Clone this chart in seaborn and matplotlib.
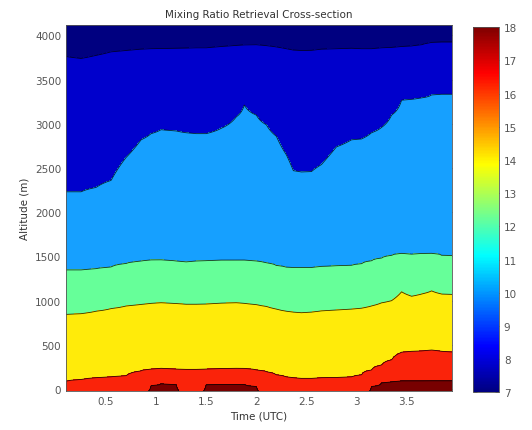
import numpy as np
import matplotlib
matplotlib.use("Agg")
import matplotlib.pyplot as plt
from matplotlib.colors import LinearSegmentedColormap
import seaborn as sns

sns.set_style("white")
plt.rcParams['font.family'] = ['DejaVu Sans']

# time (UTC hours) of each sampled column
times = [0.1, 0.25, 0.4, 0.55, 0.7, 0.85, 0.95, 1.05, 1.2, 1.3, 1.4, 1.5, 1.65, 1.8, 1.88,
         2.0, 2.1, 2.2, 2.3, 2.37, 2.45, 2.55, 2.65, 2.8, 2.95, 3.05, 3.15, 3.25, 3.35, 3.45,
         3.55, 3.65, 3.75, 3.85, 3.96]

# altitude (m) of each contour boundary at those times
top_17 = [-80, -80, -80, -80, -80, -80, 40, 60, 50, -80, -80, 50, 55, 55, 55,
          30, -80, -80, -80, -80, -80, -80, -80, -80, -80, -80, 30, 70, 85, 95,
          95, 95, 96, 96, 96]
top_15 = [88, 105, 125, 135, 150, 205, 225, 232, 225, 220, 220, 225, 228, 232, 230,
          215, 195, 160, 135, 125, 120, 120, 125, 130, 135, 160, 215, 270, 330, 415,
          425, 430, 440, 425, 417]
top_13 = [845, 853, 880, 910, 940, 958, 970, 977, 968, 960, 960, 962, 972, 977, 970,
          955, 935, 905, 880, 870, 864, 870, 885, 895, 905, 915, 940, 975, 1000, 1100,
          1050, 1075, 1110, 1075, 1071]
top_11 = [1347, 1347, 1360, 1380, 1420, 1445, 1458, 1460, 1445, 1435, 1445, 1452, 1455, 1455, 1455,
          1445, 1425, 1395, 1378, 1372, 1372, 1372, 1385, 1392, 1400, 1415, 1450, 1480, 1510, 1533,
          1525, 1530, 1535, 1510, 1506]
top_9_5 = [2231, 2231, 2280, 2360, 2620, 2820, 2890, 2935, 2920, 2900, 2890, 2890, 2950, 3080, 3214,
           3100, 2990, 2860, 2650, 2470, 2455, 2460, 2540, 2740, 2820, 2830, 2900, 2960, 3100, 3270,
           3280, 3295, 3330, 3335, 3335]
top_8 = [3762, 3740, 3775, 3815, 3830, 3845, 3850, 3852, 3855, 3857, 3860, 3860, 3875, 3887, 3892,
         3895, 3885, 3870, 3850, 3835, 3830, 3832, 3845, 3850, 3855, 3850, 3850, 3860, 3865, 3875,
         3880, 3895, 3920, 3925, 3925]

levels = [6.5, 8, 9.5, 11, 13, 15, 17, 18.5]
band_colors = ['#000080', '#0000CC', '#16A0FF', '#66FF99', '#FFEB0A', '#FA230A', '#780000']

# build mixing ratio grid (g/kg) from the boundary heights
alt = np.linspace(-25, 4125, 400)
bounds = np.array([top_17, top_15, top_13, top_11, top_9_5, top_8])
field = np.empty((len(alt), len(times)))
for j in range(len(times)):
    zs = np.concatenate([[-500], bounds[:, j], [5000]])
    vs = [18, 17, 15, 13, 11, 9.5, 8, 6.5]
    field[:, j] = np.interp(alt, zs, vs)

# matlab-style jet for the colorbar
mjet = LinearSegmentedColormap('mjet', {
    'red':   [(0, 0, 0), (0.375, 0, 0), (0.625, 1, 1), (0.875, 1, 1), (1, 0.5, 0.5)],
    'green': [(0, 0, 0), (0.125, 0, 0), (0.375, 1, 1), (0.625, 1, 1), (0.875, 0, 0), (1, 0, 0)],
    'blue':  [(0, 0.5, 0.5), (0.125, 1, 1), (0.375, 1, 1), (0.625, 0, 0), (1, 0, 0)],
})
norm = plt.Normalize(7, 18)

fig = plt.figure(figsize=(5.32, 4.31), dpi=100)
ax = fig.add_axes([0.124, 0.09, 0.726, 0.85])
T, Z = np.meshgrid(times, alt)
ax.contourf(T, Z, field, levels=levels, colors=band_colors)
ax.contour(T, Z, field, levels=levels[1:-1], colors='k', linewidths=0.6, alpha=0.8)

ax.set_xlim(0.1, 3.955)
ax.set_ylim(-25, 4120)
ax.set_xticks([0.5, 1, 1.5, 2, 2.5, 3, 3.5])
ax.set_xticklabels(['0.5', '1', '1.5', '2', '2.5', '3', '3.5'])
ax.set_yticks(range(0, 4001, 500))
ax.tick_params(direction='in', length=3, width=0.5, labelsize=7.5, colors='#333333',
               top=True, right=True, labelcolor='#555555')
for s in ax.spines.values():
    s.set_linewidth(0.6)
    s.set_color('#555555')
ax.set_title('Mixing Ratio Retrieval Cross-section', fontsize=7.5, color='#333333', pad=6)
ax.set_xlabel('Time (UTC)', fontsize=7.5, color='#333333', labelpad=3)
ax.set_ylabel('Altitude (m)', fontsize=7.5, color='#333333', labelpad=4)

cax = fig.add_axes([0.8885, 0.0875, 0.0494, 0.847])
sm = plt.cm.ScalarMappable(cmap=mjet, norm=norm)
cb = fig.colorbar(sm, cax=cax, ticks=range(7, 19))
cb.outline.set_linewidth(0.6)
cb.outline.set_edgecolor('#555555')
cax.tick_params(direction='in', length=3, width=0.5, labelsize=7.5, colors='#333333',
                labelcolor='#555555', left=True, right=True)

fig.savefig('out.png', dpi=100)
